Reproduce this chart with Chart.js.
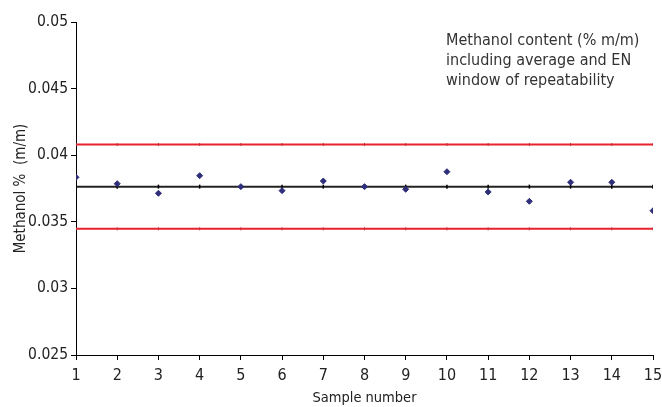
<!DOCTYPE html>
<html>
<head>
<meta charset="utf-8">
<script src="https://cdn.jsdelivr.net/npm/chart.js@4/dist/chart.umd.min.js"></script>
<style>
html,body{margin:0;padding:0;background:#fff;}
#wrap{width:662px;height:407px;}
</style>
</head>
<body>
<div id="wrap"><canvas id="c" width="662" height="407"></canvas></div>
<script>
const samples = [1,2,3,4,5,6,7,8,9,10,11,12,13,14,15];
const methanol = [0.03834,0.03786,0.03714,0.03846,0.03764,0.03734,0.03806,0.03764,0.03744,0.03876,0.03724,0.03654,0.03797,0.03797,0.03583];
const average = 0.03764;
const upperLimit = 0.04080;
const lowerLimit = 0.03447;
const yTicks = [0.025,0.03,0.035,0.04,0.045,0.05];
const noteLines = ["Methanol content (% m/m)","including average and EN","window of repeatability"];

const FONT = "'Liberation Sans Narrow','DejaVu Sans Condensed','Liberation Sans',sans-serif";

const notePlugin = {
  id:'note',
  afterDraw(chart){
    const ctx = chart.ctx;
    ctx.save();
    ctx.font = "16px " + FONT;
    ctx.fillStyle = '#333';
    ctx.textBaseline = 'middle';
    ctx.textAlign = 'left';
    noteLines.forEach((t,i)=>ctx.fillText(t, 446, 41 + i*20));
    ctx.restore();
  }
};

function flat(v){ return samples.map(x=>({x:x,y:v})); }

new Chart(document.getElementById('c'), {
  type:'scatter',
  data:{
    datasets:[
      {label:'Methanol', data:samples.map((x,i)=>({x:x,y:methanol[i]})),
       pointStyle:'rectRot', radius:3, hoverRadius:3, backgroundColor:'#2e2e7a', borderColor:'#2e2e7a', borderWidth:1, showLine:false},
      {label:'Average', data:flat(average), showLine:true, borderColor:'#222', borderWidth:2,
       pointStyle:'line', rotation:90, radius:2, pointBorderColor:'#000', pointBorderWidth:1.5},
      {label:'Upper', data:flat(upperLimit), showLine:true, borderColor:'#e8222c', borderWidth:2,
       pointStyle:'line', rotation:90, radius:1.5, pointBorderColor:'#c0303a', pointBorderWidth:1},
      {label:'Lower', data:flat(lowerLimit), showLine:true, borderColor:'#e8222c', borderWidth:2,
       pointStyle:'line', rotation:90, radius:1.5, pointBorderColor:'#c0303a', pointBorderWidth:1}
    ]
  },
  options:{
    responsive:false,
    animation:false,
    events:[],
    layout:{padding:{top:22,right:0,left:0,bottom:0}},
    plugins:{legend:{display:false},tooltip:{enabled:false}},
    scales:{
      x:{
        type:'linear', min:1, max:15,
        afterBuildTicks(s){ s.ticks = samples.map(v=>({value:v})); },
        afterFit(s){ s.height = 52; s.paddingRight = 9; s.paddingLeft = 0; },
        ticks:{font:{family:FONT,size:16},color:'#222',padding:6,maxRotation:0,autoSkip:false},
        grid:{display:true,drawOnChartArea:false,color:'#000',tickLength:5,lineWidth:1},
        border:{color:'#000',width:1},
        title:{display:true,text:'Sample number',font:{family:FONT,size:14.5},color:'#222',padding:{top:0,bottom:0}}
      },
      y:{
        min:0.025, max:0.05,
        afterBuildTicks(s){ s.ticks = yTicks.map(v=>({value:v})); },
        afterFit(s){ s.width = 76; },
        ticks:{font:{family:FONT,size:15.5},color:'#222',padding:3,callback:v=>String(+v.toFixed(3))},
        grid:{display:true,drawOnChartArea:false,color:'#000',tickLength:5,lineWidth:1},
        border:{color:'#000',width:1},
        title:{display:true,text:'Methanol %  (m/m)',font:{family:FONT,size:15},color:'#222',padding:{top:12,bottom:0}}
      }
    }
  },
  plugins:[notePlugin]
});
</script>
</body>
</html>
